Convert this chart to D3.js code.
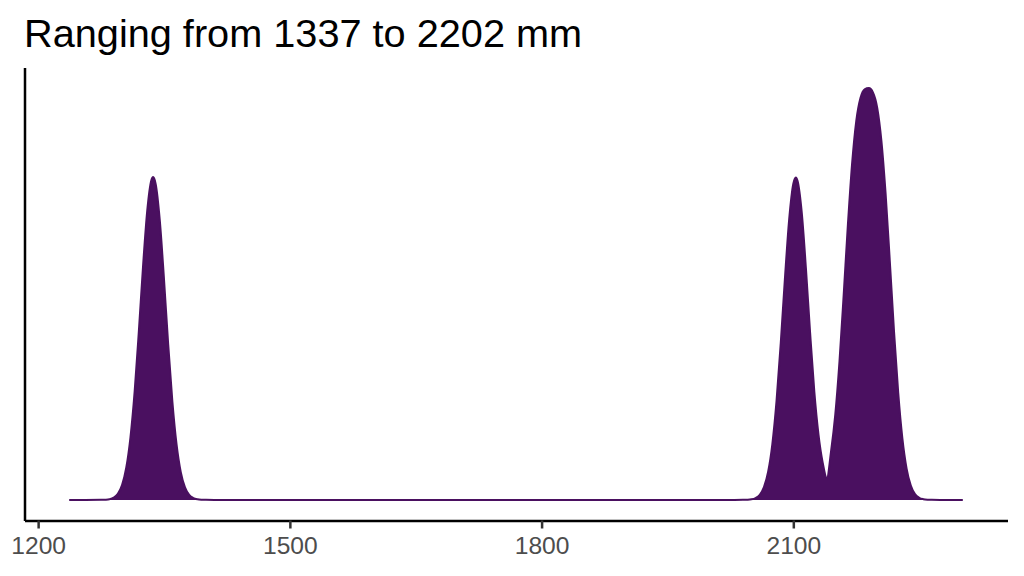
<!DOCTYPE html>
<html>
<head>
<meta charset="utf-8">
<script src="https://cdn.jsdelivr.net/npm/d3@7"></script>
<style>
  html, body { margin: 0; padding: 0; background: #fff; }
  svg { display: block; font-family: "Liberation Sans", Arial, sans-serif; }
</style>
</head>
<body>
<div id="chart"></div>
<script>
// length in mm
const lengthMm = [
  1237, 1275, 1280, 1285, 1290, 1295, 1300, 1305, 1310, 1315, 1320, 1325, 1330, 1335, 1337,
  1340, 1345, 1350, 1355, 1360, 1365, 1370, 1375, 1380, 1385, 1390, 1395, 1400, 1410,
  2030, 2040, 2045, 2050, 2055, 2060, 2065, 2070, 2075, 2080, 2085, 2090, 2095, 2100, 2103,
  2105, 2110, 2115, 2120, 2125, 2130, 2135, 2140, 2145, 2150, 2155, 2160, 2165, 2170, 2175,
  2180, 2185, 2190, 2195, 2200, 2205, 2210, 2215, 2220, 2225, 2230, 2235, 2240, 2245, 2250,
  2255, 2260, 2265, 2275, 2302
];

// density (per metre) at each length above
const density = [
  0, 0.001, 0.0045, 0.015, 0.047, 0.127, 0.309, 0.673, 1.307, 2.270, 3.526, 4.887, 6.054, 6.699, 6.76,
  6.624, 5.853, 4.620, 3.258, 2.054, 1.156, 0.581, 0.262, 0.105, 0.038, 0.012, 0.0035, 0.001, 0,
  0, 0.001, 0.0036, 0.012, 0.039, 0.107, 0.266, 0.589, 1.170, 2.073, 3.280, 4.640, 5.865, 6.623, 6.75,
  6.683, 6.026, 4.856, 3.502, 2.273, 1.368, 0.78, 0.46, 1.02, 1.786, 2.896, 4.290, 5.755, 7.034, 7.934,
  8.414, 8.598, 8.624, 8.530, 8.210, 7.516, 6.408, 4.999, 3.532, 2.247, 1.283, 0.656, 0.299, 0.122, 0.045,
  0.015, 0.004, 0.001, 0, 0
];

const xTicks = [1200, 1500, 1800, 2100];
const titleText = "Ranging from 1337 to 2202 mm";

// =========================
// SETUP
// =========================
const width = 1024;
const height = 576;
const fillColor = "#4a1060";

const svg = d3.select("#chart")
  .append("svg")
  .attr("width", width)
  .attr("height", height);

const points = lengthMm.map((x, i) => ({ x, y: density[i] }));

// ggplot style 5% expansion on both scales
const xExt = d3.extent(lengthMm);
const xPad = (xExt[1] - xExt[0]) * 0.05;
const x = d3.scaleLinear()
  .domain([xExt[0] - xPad, xExt[1] + xPad])
  .range([24.5, 1007.5]);

const yMax = d3.max(density);
const y = d3.scaleLinear()
  .domain([-yMax * 0.05, yMax * 1.05])
  .range([520.5, 67.5]);

// =========================
// DENSITY AREA
// =========================
const area = d3.area()
  .x(d => x(d.x))
  .y0(y(0))
  .y1(d => y(d.y))
  .curve(d3.curveMonotoneX);

const line = d3.line()
  .x(d => x(d.x))
  .y(d => y(d.y))
  .curve(d3.curveMonotoneX);

svg.append("path")
  .datum(points)
  .attr("d", area)
  .attr("fill", fillColor);

svg.append("path")
  .datum(points)
  .attr("d", line)
  .attr("fill", "none")
  .attr("stroke", fillColor)
  .attr("stroke-width", 2);

// =========================
// AXES
// =========================
const xAxis = svg.append("g")
  .attr("transform", `translate(0, ${520.5})`)
  .call(d3.axisBottom(x)
    .tickValues(xTicks)
    .tickFormat(d3.format("d"))
    .tickSize(8)
    .tickSizeOuter(0)
    .tickPadding(8));

xAxis.select(".domain")
  .attr("stroke", "#000")
  .attr("stroke-width", 2.5);
xAxis.selectAll(".tick line")
  .attr("stroke", "#333333")
  .attr("stroke-width", 2.5);
xAxis.selectAll(".tick text")
  .attr("fill", "#4d4d4d")
  .style("font-size", "24.6px")
  .style("font-family", "'Liberation Sans', Arial, sans-serif");

const yAxis = svg.append("g")
  .attr("transform", `translate(${24.5}, 0)`)
  .call(d3.axisLeft(y).tickValues([]).tickSizeOuter(0));

yAxis.select(".domain")
  .attr("stroke", "#000")
  .attr("stroke-width", 2.5);

// =========================
// TITLE
// =========================
svg.append("text")
  .attr("x", 24)
  .attr("y", 47)
  .style("font-size", "39.7px")
  .attr("fill", "#000")
  .text(titleText);
</script>
</body>
</html>
